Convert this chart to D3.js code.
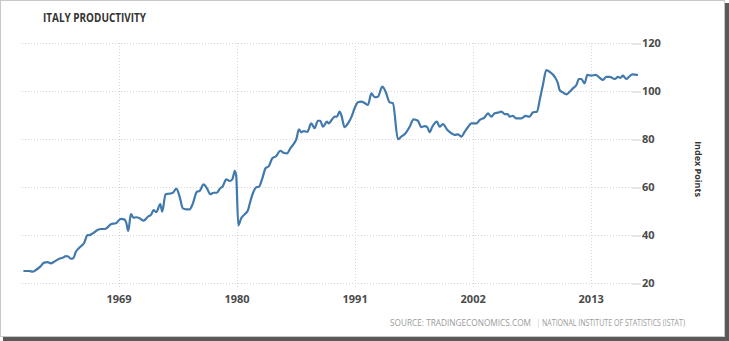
<!DOCTYPE html>
<html>
<head>
<meta charset="utf-8">
<script src="https://cdn.jsdelivr.net/npm/d3@7"></script>
<style>
  html, body { margin: 0; padding: 0; background: #fff; }
  svg { display: block; }
  text { font-family: "Open Sans", "Liberation Sans", sans-serif; }
</style>
</head>
<body>
<svg id="chart" width="729" height="341"></svg>
<script>
// Italy productivity, index points (quarterly-ish readings, decimal years)
const years = [
  1960.21, 1960.68, 1960.98, 1961.29, 1961.70, 1962.07, 1962.38, 1962.69, 1963.01, 1963.47,
  1963.78, 1964.09, 1964.31, 1964.55, 1964.78, 1965.02, 1965.34, 1965.80, 1966.11, 1966.27,
  1966.48, 1966.73, 1967.04, 1967.35, 1967.72, 1967.97, 1968.28, 1968.75, 1969.21, 1969.53,
  1969.72, 1969.90, 1970.15, 1970.40, 1970.65, 1970.96, 1971.33, 1971.73, 1972.05, 1972.26,
  1972.51, 1972.89, 1973.07, 1973.38, 1973.69, 1974.06, 1974.38, 1974.69, 1974.99, 1975.31,
  1975.62, 1975.93, 1976.30, 1976.55, 1976.92, 1977.23, 1977.55, 1977.86, 1978.16, 1978.42,
  1978.72, 1979.04, 1979.35, 1979.60, 1979.84, 1979.97, 1980.16, 1980.43, 1980.75, 1981.05,
  1981.21, 1981.52, 1981.84, 1982.08, 1982.40, 1982.70, 1983.01, 1983.33, 1983.70, 1984.07,
  1984.38, 1984.69, 1985.01, 1985.31, 1985.57, 1985.81, 1986.03, 1986.27, 1986.59, 1986.96,
  1987.27, 1987.58, 1987.80, 1988.05, 1988.42, 1988.60, 1988.86, 1989.14, 1989.35, 1989.60,
  1989.76, 1990.07, 1990.38, 1990.69, 1991.00, 1991.31, 1991.63, 1991.93, 1992.25, 1992.56,
  1992.87, 1993.17, 1993.58, 1993.89, 1994.26, 1994.57, 1995.04, 1995.35, 1995.75, 1996.13,
  1996.50, 1996.90, 1997.22, 1997.53, 1997.78, 1997.99, 1998.24, 1998.67, 1998.92, 1999.23,
  1999.61, 2000.02, 2000.32, 2000.63, 2000.95, 2001.26, 2001.56, 2001.88, 2002.35, 2002.65,
  2003.12, 2003.43, 2003.74, 2004.05, 2004.36, 2004.68, 2004.98, 2005.29, 2005.45, 2005.76,
  2006.07, 2006.54, 2006.94, 2007.31, 2007.62, 2008.00, 2008.25, 2008.55, 2008.87, 2009.18,
  2009.65, 2009.95, 2010.11, 2010.42, 2010.74, 2011.04, 2011.35, 2011.67, 2011.91, 2012.13,
  2012.44, 2012.69, 2013.07, 2013.47, 2013.84, 2014.15, 2014.46, 2014.77, 2015.24, 2015.55,
  2015.77, 2016.01, 2016.33, 2016.57, 2016.89, 2017.32
];
const values = [
  25.0, 25.0, 24.7, 25.4, 26.8, 28.5, 28.7, 28.2, 28.9, 30.1,
  30.5, 31.2, 31.0, 30.1, 30.3, 33.0, 34.7, 36.8, 40.0, 39.9,
  40.4, 41.1, 42.1, 42.5, 42.5, 43.2, 44.5, 44.9, 46.7, 46.5,
  45.1, 41.7, 48.7, 47.2, 47.4, 47.0, 46.0, 47.6, 48.6, 50.4,
  49.5, 52.9, 49.7, 57.0, 57.2, 57.6, 59.3, 56.0, 51.1, 50.7,
  50.7, 53.2, 58.0, 58.3, 61.1, 59.5, 57.0, 57.6, 57.6, 59.2,
  60.4, 63.2, 62.5, 63.2, 66.7, 64.3, 44.0, 47.0, 48.6, 50.2,
  52.8, 57.4, 59.9, 60.1, 63.6, 67.8, 68.7, 72.0, 72.9, 75.1,
  74.3, 74.0, 76.1, 77.9, 79.9, 84.0, 82.8, 83.3, 83.0, 86.5,
  84.5, 87.6, 87.6, 85.1, 87.2, 86.5, 87.9, 89.3, 89.3, 91.4,
  90.0, 84.9, 86.5, 89.0, 92.8, 95.3, 95.6, 95.0, 94.2, 99.0,
  97.4, 97.6, 101.8, 99.7, 95.3, 94.9, 79.9, 81.0, 82.4, 85.1,
  88.2, 87.6, 84.9, 85.4, 84.9, 82.8, 85.1, 87.2, 85.1, 86.2,
  84.0, 82.4, 81.7, 81.9, 81.0, 83.0, 84.9, 86.5, 86.5, 87.9,
  89.0, 90.7, 89.3, 90.7, 91.0, 91.4, 90.4, 90.3, 89.3, 89.6,
  88.6, 88.6, 89.6, 89.3, 91.1, 91.4, 96.2, 102.5, 108.7, 108.0,
  105.9, 103.2, 100.4, 99.4, 98.6, 99.7, 101.1, 102.5, 105.0, 105.0,
  103.2, 106.7, 106.4, 106.7, 105.5, 104.6, 105.9, 105.9, 105.0, 105.9,
  105.5, 106.4, 105.0, 105.9, 106.9, 106.7
];
const xTickYears = [1969, 1980, 1991, 2002, 2013];
const yTickValues = [20, 40, 60, 80, 100, 120];

const titleText = "ITALY PRODUCTIVITY";
const yAxisTitle = "Index Points";
const sourceLead = "SOURCE: TRADINGECONOMICS.COM";
const sourceRest = "NATIONAL INSTITUTE OF STATISTICS (ISTAT)";

const svg = d3.select("#chart");
const W = 729, H = 341;

// frame with a drop shadow on the right and bottom
svg.append("rect").attr("x", 3).attr("y", 3).attr("width", W - 3).attr("height", H - 3)
  .attr("fill", "#5a5a5a");
svg.append("rect").attr("x", 0.5).attr("y", 0.5).attr("width", W - 5).attr("height", H - 5)
  .attr("fill", "#fff").attr("stroke", "#c8c8c8");

const plot = { left: 22, right: 640, top: 43, bottom: 283 };

const x = d3.scaleLinear().domain([1960, 2017.6]).range([plot.left, plot.right]);
const y = d3.scaleLinear().domain([20, 120]).range([plot.bottom, plot.top]);

// horizontal grid
svg.append("g")
  .selectAll("line")
  .data(yTickValues)
  .join("line")
  .attr("x1", plot.left).attr("x2", plot.right - 4)
  .attr("y1", d => y(d) + 0.5).attr("y2", d => y(d) + 0.5)
  .attr("stroke", "#d6d6d6").attr("stroke-dasharray", "1,2");

// vertical grid, running a little below the baseline as ticks
svg.append("g")
  .selectAll("line")
  .data(xTickYears)
  .join("line")
  .attr("x1", d => Math.round(x(d)) + 0.5).attr("x2", d => Math.round(x(d)) + 0.5)
  .attr("y1", plot.top).attr("y2", plot.bottom + 6)
  .attr("stroke", "#d6d6d6").attr("stroke-dasharray", "1,2");

// right value axis
const yAxis = d3.axisRight(y).tickValues(yTickValues).tickSize(0).tickPadding(0);
const gy = svg.append("g").attr("transform", `translate(${plot.right + 1},0)`).call(yAxis);
gy.select(".domain").remove();
gy.selectAll(".tick line").remove();
gy.selectAll(".tick").append("line")
  .attr("x1", -9).attr("x2", 0).attr("y1", 0.5).attr("y2", 0.5)
  .attr("stroke", "#cfcfcf");
gy.selectAll("text")
  .attr("x", 1).attr("dy", "0.36em")
  .attr("fill", "#4a4a4a").style("font-size", "11px").style("font-weight", "700");

// bottom year axis
const xAxis = d3.axisBottom(x).tickValues(xTickYears).tickFormat(d3.format("d")).tickSize(0).tickPadding(0);
const gx = svg.append("g").attr("transform", `translate(0,${plot.bottom})`).call(xAxis);
gx.select(".domain").remove();
gx.selectAll("text")
  .attr("y", 12).attr("dy", "0.71em")
  .attr("fill", "#4a4a4a").style("font-size", "11px").style("font-weight", "700");

// the series
const line = d3.line()
  .x((d, i) => x(years[i]))
  .y(d => y(d))
  .curve(d3.curveMonotoneX);

svg.append("path")
  .datum(values)
  .attr("d", line)
  .attr("fill", "none")
  .attr("stroke", "#4179ad")
  .attr("stroke-width", 2.2)
  .attr("stroke-linejoin", "round")
  .attr("stroke-linecap", "round");

// title
svg.append("text")
  .attr("x", 43).attr("y", 21.5)
  .attr("fill", "#333")
  .attr("textLength", 103).attr("lengthAdjust", "spacingAndGlyphs")
  .style("font-size", "11.5px").style("font-weight", "700")
  .text(titleText);

// value axis title
svg.append("text")
  .attr("transform", "translate(695,169) rotate(90)")
  .attr("text-anchor", "middle")
  .attr("fill", "#333")
  .style("font-size", "9px").style("font-weight", "700")
  .text(yAxisTitle);

// source line: provider, separator, data owner
const srcY = 325.5;
svg.append("text")
  .attr("x", 390).attr("y", srcY)
  .attr("fill", "#9a9a9a")
  .attr("textLength", 141).attr("lengthAdjust", "spacingAndGlyphs")
  .style("font-size", "8.5px")
  .text(sourceLead);
svg.append("text")
  .attr("x", 536).attr("y", srcY)
  .attr("fill", "#cfcfcf")
  .style("font-size", "8.5px")
  .text("|");
svg.append("text")
  .attr("x", 542).attr("y", srcY)
  .attr("fill", "#9a9a9a")
  .attr("textLength", 143).attr("lengthAdjust", "spacingAndGlyphs")
  .style("font-size", "8.5px")
  .text(sourceRest);
</script>
</body>
</html>
